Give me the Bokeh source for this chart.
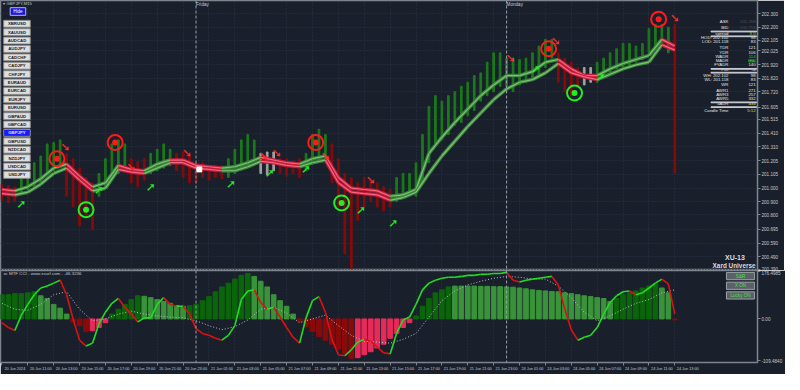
from bokeh.plotting import figure
from bokeh.layouts import column
from bokeh.models import (FixedTicker, Span, Label, BoxAnnotation, Range1d, Grid,
                          PrintfTickFormatter)
from bokeh.embed import file_html
from bokeh.resources import INLINE
from bokeh.core.properties import value

# ---------------- data ----------------
# time axis: hours since 20 Jun 09:00 (weekend gap removed)
tick_hours = list(range(0, 53, 2))
tick_labels = ["20 Jun 2024", "20 Jun 11:00", "20 Jun 13:00", "20 Jun 15:00", "20 Jun 17:00",
               "20 Jun 19:00", "20 Jun 21:00", "20 Jun 23:00", "21 Jun 01:00", "21 Jun 03:00",
               "21 Jun 05:00", "21 Jun 07:00", "21 Jun 09:00", "21 Jun 11:00", "21 Jun 13:00",
               "21 Jun 15:00", "21 Jun 17:00", "21 Jun 19:00", "21 Jun 21:00", "21 Jun 23:00",
               "24 Jun 01:00", "24 Jun 03:00", "24 Jun 05:00", "24 Jun 07:00", "24 Jun 09:00",
               "24 Jun 11:00", "24 Jun 13:00"]
friday_h = 15
monday_h = 39

price_ticks = [202.300, 202.200, 202.105, 202.025, 201.920, 201.820, 201.720, 201.605,
               201.515, 201.410, 201.310, 201.205, 201.105, 201.000, 200.900, 200.800,
               200.695, 200.590, 200.490, 200.390]

# candles every 30 min
candle_high = [201.03, 201.02, 201.01, 201.08, 201.11, 201.19, 201.24, 201.33, 201.34, 201.36,
               201.26, 201.22, 201.15, 201.08, 201.04, 201.11, 201.22, 201.33, 201.36, 201.33,
               201.22, 201.20, 201.22, 201.26, 201.29, 201.33, 201.29, 201.26, 201.27, 201.24,
               201.19, 201.19, 201.17, 201.17, 201.17, 201.22, 201.29, 201.36, 201.40, 201.36,
               201.26, 201.27, 201.27, 201.22, 201.22, 201.20, 201.22, 201.26, 201.40, 201.44,
               201.40, 201.33, 201.22, 201.11, 201.08, 201.04, 201.08, 201.06, 201.04, 201.01,
               200.99, 201.08, 201.11, 201.11, 201.19, 201.40, 201.61, 201.69, 201.65, 201.69,
               201.72, 201.76, 201.79, 201.84, 201.86, 201.94, 202.01, 202.01, 201.97, 201.97,
               201.96, 201.97, 202.01, 202.06, 202.11, 202.11, 202.01, 201.97, 201.94, 201.90,
               201.90, 201.90, 201.94, 201.97, 202.01, 202.04, 202.08, 202.08, 202.06, 202.08,
               202.19, 202.22, 202.22, 202.20, 202.22]
candle_low = [200.91, 200.89, 200.90, 200.97, 200.99, 201.01, 201.04, 201.11, 201.13, 201.17,
              200.94, 200.86, 200.72, 200.79, 200.69, 200.94, 201.01, 201.08, 201.11, 201.15,
              201.04, 201.01, 201.06, 201.11, 201.13, 201.15, 201.17, 201.13, 201.08, 201.04,
              201.04, 201.08, 201.06, 201.08, 201.07, 201.08, 201.11, 201.15, 201.17, 201.20,
              201.11, 201.10, 201.13, 201.11, 201.09, 201.11, 201.08, 201.13, 201.19, 201.20,
              201.22, 201.04, 200.86, 200.51, 200.40, 200.76, 200.86, 200.90, 200.86, 200.83,
              200.86, 200.90, 200.94, 200.97, 200.94, 201.04, 201.19, 201.33, 201.36, 201.40,
              201.47, 201.49, 201.54, 201.58, 201.65, 201.69, 201.72, 201.76, 201.76, 201.72,
              201.77, 201.79, 201.81, 201.84, 201.90, 201.97, 201.79, 201.72, 201.69, 201.76,
              201.77, 201.79, 201.79, 201.83, 201.84, 201.89, 201.90, 201.91, 201.94, 201.96,
              202.01, 202.04, 202.08, 202.01, 201.11]
candle_trend = ("rrrggggggg" "rrrrrggggg" "rrrggggrrr" "rrrrrggggg" "nnnrrrrggg"
                "grrrrrrrrr" "rggggggggg" "gggggggggg" "ggggggrrrr" "nngggggggg" "ggggr")

# moving-average band, hourly
ma_fast = [200.99, 200.98, 201.01, 201.07, 201.15, 201.18, 201.09, 201.01, 201.04, 201.17,
           201.14, 201.13, 201.18, 201.21, 201.21, 201.17, 201.16, 201.15, 201.16, 201.19,
           201.23, 201.21, 201.19, 201.18, 201.22, 201.24, 201.08, 201.00, 200.99, 200.98,
           200.94, 200.95, 200.99, 201.26, 201.38, 201.49, 201.59, 201.69, 201.77, 201.84,
           201.84, 201.87, 201.94, 201.96, 201.89, 201.84, 201.84, 201.89, 201.93, 201.96,
           201.99, 202.11, 202.06]
ma_slow = [200.96, 200.95, 200.97, 201.03, 201.11, 201.15, 201.06, 200.98, 201.00, 201.14,
           201.12, 201.11, 201.15, 201.19, 201.19, 201.15, 201.14, 201.13, 201.13, 201.16,
           201.20, 201.19, 201.17, 201.16, 201.19, 201.21, 201.04, 200.97, 200.96, 200.95,
           200.91, 200.93, 200.97, 201.11, 201.24, 201.35, 201.46, 201.56, 201.66, 201.74,
           201.79, 201.81, 201.86, 201.93, 201.86, 201.83, 201.81, 201.85, 201.89, 201.92,
           201.94, 202.07, 202.03]
ma_trend = "duuuudduud" "duudddduuu" "ddduuddddd" "uuuuuuuuuu" "uuuddduuuu" "ud"

sell_h = [4.25, 8.75, 24.25, 42.25, 50.75]
sell_p = [201.22, 201.34, 201.34, 202.04, 202.26]
buy_h = [6.5, 26.25, 44.25]
buy_p = [200.84, 200.89, 201.71]
dn_arrow_h = [4.9, 10.0, 14.3, 20.25, 21.25, 25.0, 28.5, 39.3, 42.8, 52.0]
dn_arrow_p = [201.31, 201.16, 201.26, 201.24, 201.26, 201.24, 201.06, 201.97, 202.10, 202.27]
up_arrow_h = [1.5, 7.5, 11.5, 17.7, 20.7, 23.5, 27.75, 30.25, 41.25, 46.25]
up_arrow_p = [200.88, 200.99, 201.01, 201.03, 201.11, 201.14, 200.84, 200.74, 201.89, 201.83]
marker_h = [15.25]
marker_p = [201.14]
bid_price = 201.758

# MTF CCI panel, every 30 min
cci_hist = [90, 90, 94, 94, 97, 101, 86, 76, 54, 40,
            18, -11, -25, -47, -44, -32, -14, 18, 36, 54,
            72, 86, 84, 79, 72, 65, 58, 50, 47, 49,
            54, 68, 83, 101, 119, 133, 148, 162, 169, 158,
            140, 119, 90, 68, 47, 18, -11, -29, -47, -65,
            -79, -94, -112, -130, -148, -144, -133, -122, -108, -94,
            -72, -54, -32, -14, 11, 47, 76, 97, 108, 119,
            122, 122, 122, 122, 121, 121, 120, 120, 119, 118,
            115, 112, 108, 106, 104, 102, 101, 97, 94, 90,
            86, 83, 79, 76, 65, 76, 90, 97, 104, 115,
            122, 130, 115, 97, -4]
hist_kind = ("DDDDDDLLLL" "LRRRPPPDDD" "DDLLLLLLLD" "DDDDDDDDDL" "LLLLLLRRRR"
             "RRRRRPPPPP" "PPPPDDDDDD" "LLLLLLLLLL" "LLLLLLLLLL" "LLLLLDDDDD" "DDLLR")
cci_line = [-14, -32, -43, 14, 54, 90, 115, 122, 133, 144,
            90, 0, -79, -101, -90, -18, 25, 58, 76, 43,
            18, -11, 4, 4, 54, 79, 54, 47, 47, 18,
            -36, -54, -61, -72, -79, -61, -25, 72, 104, 108,
            61, 36, 43, 7, -32, -68, -90, 4, 68, 83,
            25, -76, -133, -137, -115, -86, -76, -83, -104, -126,
            -130, -54, -4, 7, 54, 108, 133, 144, 151, 155,
            155, 158, 162, 162, 166, 166, 169, 169, 173, 144,
            137, 144, 148, 151, 155, 158, 126, 36, -40, -79,
            -68, -61, -32, 18, 61, 86, 101, 104, 90, 97,
            115, 133, 148, 130, 18]
cci_signal = [58, 36, 32, 54, 90, 101, 36, -7, 0, 18,
              29, 18, 11, 7, 4, -7, -25, -40, -29, -4,
              36, 43, 22, -14, 0, 14, -25, -61, -83, -86,
              -90, -76, -54, 7, 68, 104, 126, 140, 151, 158,
              155, 148, 148, 122, 79, 25, -7, 11, 36, 58,
              72, 97, 108]
cci_ticks = [176.4985, 0.0, -155.0]
cci_tick_text = ["176.4985", "0.00", "-109.4840"]

symbols = ["XBRUSD", "XAUUSD", "AUDCAD", "AUDJPY", "CADCHF", "CADJPY", "CHFJPY", "EURAUD",
           "EURCAD", "EURJPY", "EURUSD", "GBPAUD", "GBPCAD", "GBPJPY", "GBPUSD", "NZDCAD",
           "NZDJPY", "USDCAD", "USDJPY"]
active_symbol = "GBPJPY"

info_names = ["ASK", "BID", "spread", "HOD: 202.102", "LOD: 201.118", "TDR", "YDR", "WADR",
              "MADR", "FYADR", "PDI", "WH: 202.102", "WL: 201.118", "WR", "AWR1", "AWR3",
              "AWR5", "5ADR", "Candle Time"]
info_values = ["201.768", "201.758", "3.0", "98", "83", "121", "106", "114", "129", "140",
               "-4", "98", "83", "121", "271", "257", "332", "434", "5:12"]
info_colors = ["#4a5260", "#4a5260", "#9acd32", "#e6e6e6", "#e6e6e6", "#e6e6e6", "#e6e6e6",
               "#32cd32", "#101010", "#e6e6e6", "#e6e6e6", "#e6e6e6", "#e6e6e6", "#e6e6e6",
               "#e6e6e6", "#e6e6e6", "#e6e6e6", "#e6e640", "#c8e640"]

# ---------------- style ----------------
BG = "#19202c"
GRID = "#2a3444"
AXIS = "#7d848e"
TXT = "#c4c8ce"
FONT = "Liberation Sans"
GREEN_C = "#1a7a1a"
RED_C = "#880a0a"
GRAY_C = "#a0a0a0"
FW, FH1, FH2 = 757, 270, 92
RIGHT = 27
KX = FW / 781.0
KY = FH1 / 282.0
KY2 = FH2 / 95.0
X0, X1 = -0.11, 58.39


def sx(px):
    return px * KX


def sy1(py):
    return FH1 - py * KY


def sy2(py):
    return FH2 - (py - 285) * KY2


def style_axis(ax, size="4.6px"):
    ax.axis_line_color = AXIS
    ax.major_tick_line_color = AXIS
    ax.minor_tick_line_color = None
    ax.major_tick_in = 0
    ax.major_tick_out = 3
    ax.major_label_standoff = 1
    ax.major_label_text_font = FONT
    ax.major_label_text_font_size = size
    ax.major_label_text_color = TXT


def txt(p, x, y, text, size="4.6px", color=TXT, align="left", style="normal", xu="screen",
        bg=None):
    lab = Label(x=x, y=y, x_units=xu, y_units="screen", text=text, text_font=FONT,
                text_font_size=size, text_color=color, text_align=align,
                text_baseline="middle", text_font_style=style)
    if bg is not None:
        lab.background_fill_color = bg
    p.add_layout(lab)


def box(p, l, r, t, b, fill, line):
    p.add_layout(BoxAnnotation(left=l, right=r, top=t, bottom=b, left_units="screen",
                               right_units="screen", top_units="screen", bottom_units="screen",
                               fill_color=fill, fill_alpha=1, line_color=line, line_width=1,
                               line_alpha=1))


def clear_grids(p):
    for g in list(p.center):
        if isinstance(g, Grid):
            g.visible = False


# ---------------- price panel ----------------
p1 = figure(frame_width=FW, frame_height=FH1, x_range=Range1d(X0, X1),
            y_range=Range1d(200.386, 202.40), y_axis_location="right", x_axis_location=None,
            output_backend="svg", toolbar_location=None, background_fill_color=BG,
            border_fill_color=BG, min_border_left=0, min_border_top=0, min_border_bottom=0,
            min_border_right=RIGHT, outline_line_color=AXIS, outline_line_width=1.5)
clear_grids(p1)
style_axis(p1.yaxis[0])
p1.yaxis.ticker = FixedTicker(ticks=price_ticks)
p1.yaxis.formatter = PrintfTickFormatter(format="%.3f")
p1.add_layout(Grid(dimension=1, ticker=FixedTicker(ticks=price_ticks), grid_line_color=GRID,
                   grid_line_dash="1 2"))
p1.add_layout(Grid(dimension=0, ticker=FixedTicker(ticks=tick_hours), grid_line_color=GRID,
                   grid_line_dash="1 2"))

candle_h = [i * 0.5 for i in range(len(candle_high))]
cmap = {"g": GREEN_C, "r": RED_C, "n": GRAY_C}
p1.vbar(x=candle_h, top=candle_high, bottom=candle_low, width=0.13,
        color=[cmap[c] for c in candle_trend])

ma_h = list(range(len(ma_fast)))
for series in (ma_fast, ma_slow):
    xs, ys, outer, inner = [], [], [], []
    for i in range(len(series) - 1):
        xs.append([ma_h[i], ma_h[i + 1]])
        ys.append([series[i], series[i + 1]])
        up = ma_trend[i] == "u"
        outer.append("#3c843c" if up else "#c21e3c")
        inner.append("#7cc474" if up else "#f4687f")
    p1.multi_line(xs, ys, line_color=outer, line_width=3.6)
    p1.multi_line(xs, ys, line_color=inner, line_width=1.2)

p1.scatter(sell_h, sell_p, size=15, fill_alpha=0, line_color="#ff1a1a", line_width=2)
p1.scatter(sell_h, sell_p, size=6, fill_color="#ff1a1a", line_color=None)
p1.scatter(buy_h, buy_p, size=15, fill_alpha=0, line_color="#22ee22", line_width=2)
p1.scatter(buy_h, buy_p, size=6, fill_color="#22ee22", line_color=None)
p1.text(dn_arrow_h, dn_arrow_p, text=["\u2798"] * len(dn_arrow_h), text_font=value("DejaVu Sans"),
        text_font_size="12px", text_font_style="bold", text_color="#ff2a2a",
        text_align="center", text_baseline="middle")
p1.text(up_arrow_h, up_arrow_p, text=["\u279a"] * len(up_arrow_h), text_font=value("DejaVu Sans"),
        text_font_size="12px", text_font_style="bold", text_color="#22ee22",
        text_align="center", text_baseline="middle")
p1.scatter(marker_h, marker_p, marker="square", size=5, color="white")

for loc in (friday_h, monday_h):
    p1.add_layout(Span(location=loc, dimension="height", line_color="#9aa0aa",
                       line_dash="3 2", line_width=1))
txt(p1, friday_h, sy1(4.5), "Friday", xu="data")
txt(p1, monday_h, sy1(4.5), "Monday", xu="data")
txt(p1, sx(3), sy1(3), "\u25be GBPJPY,M15", size="4.2px")

# current price box on the axis
p1.add_layout(Label(x=FW + 1, y=bid_price, x_units="screen", y_units="data", text="201.758",
                    text_font=FONT, text_font_size="4.6px", text_color="#1a1a1a",
                    text_baseline="middle", background_fill_color="#dfe3e8"))

# Hide button + symbol buttons
box(p1, sx(10), sx(26), sy1(7.5), sy1(15.5), "#1818d8", "#b0b4ff")
txt(p1, sx(18), sy1(11.5), "Hide", size="4.6px", color="#ffffff", align="center")
for i, s in enumerate(symbols):
    top = 20.7 + i * 8.77
    act = s == active_symbol
    box(p1, sx(3.3), sx(30.7), sy1(top), sy1(top + 7.2),
        "#1a1aff" if act else "#dedede", "#8a8a8a")
    txt(p1, sx(17), sy1(top + 3.6), s, size="4.3px",
        color="#e0e0ff" if act else "#202020", align="center", style="bold")

# info panel
info_y = [22, 28, 34, 39, 43, 49, 54, 58, 63, 67, 72, 78, 82, 88, 94, 98, 102, 108, 115]
for nm, val, col, yy in zip(info_names, info_values, info_colors, info_y):
    txt(p1, sx(751), sy1(yy), nm, size="4.3px", color="#e6e6e6", align="right")
    txt(p1, sx(779), sy1(yy), val, size="4.3px", color=col, align="right",
        bg="#2fbf2f" if nm == "MADR" else None)
for yy in (32, 37, 71, 75, 106, 111):
    box(p1, sx(733), sx(780), sy1(yy), sy1(yy + 0.8), "#c8ccd2", "#c8ccd2")

txt(p1, sx(768), sy1(268), "XU-13", size="7px", color="#d8dce2", align="right", style="bold")
txt(p1, sx(779), sy1(277), "Xard Universe", size="6.4px", color="#d8dce2", align="right",
    style="bold")

# ---------------- MTF CCI panel ----------------
p2 = figure(frame_width=FW, frame_height=FH2, x_range=p1.x_range, y_range=Range1d(-162, 180),
            y_axis_location="right", output_backend="svg", toolbar_location=None,
            background_fill_color=BG, border_fill_color=BG, min_border_left=0,
            min_border_top=0, min_border_bottom=12, min_border_right=RIGHT,
            outline_line_color=AXIS, outline_line_width=1.5)
clear_grids(p2)
style_axis(p2.yaxis[0])
p2.yaxis.ticker = FixedTicker(ticks=cci_ticks)
p2.yaxis.major_label_overrides = {t: s for t, s in zip(cci_ticks, cci_tick_text)}
style_axis(p2.xaxis[0], size="3.8px")
xax = p2.xaxis[0]
xax.ticker = FixedTicker(ticks=[h + 1 for h in tick_hours], minor_ticks=tick_hours)
xax.major_label_overrides = {h + 1: s for h, s in zip(tick_hours, tick_labels)}
xax.major_tick_line_color = None
xax.minor_tick_line_color = AXIS
xax.minor_tick_in = 0
xax.minor_tick_out = 3
p2.add_layout(Grid(dimension=0, ticker=FixedTicker(ticks=tick_hours), grid_line_color=GRID,
                   grid_line_dash="1 2"))

hist_h = [i * 0.5 for i in range(len(cci_hist))]
hmap = {"D": "#0b650b", "L": "#3a923a", "R": "#8a0a0a", "P": "#e82a5a"}
p2.vbar(x=hist_h, top=cci_hist, bottom=0, width=0.36, color=[hmap[k] for k in hist_kind])

sig_h = list(range(len(cci_signal)))
p2.line(sig_h, cci_signal, line_color="#b8bcc4", line_dash="1 2", line_width=1)

cx, cy, cc = [], [], []
for i in range(len(cci_line) - 1):
    cx.append([hist_h[i], hist_h[i + 1]])
    cy.append([cci_line[i], cci_line[i + 1]])
    cc.append("#22dd22" if cci_line[i + 1] >= cci_line[i] else "#dd1111")
p2.multi_line(cx, cy, line_color=cc, line_width=1.6)

for loc in (friday_h, monday_h):
    p2.add_layout(Span(location=loc, dimension="height", line_color="#9aa0aa",
                       line_dash="3 2", line_width=1))

txt(p2, sx(3), sy2(288.5), "xc MTF CCI - www.xsurf.com - -46.3236", size="4.4px")
for lbl, top in (("S&R", 287), ("X ON", 297), ("Lucky ON", 307)):
    box(p2, sx(749), sx(778), sy2(top), sy2(top + 7.5), "#5c6168", "#9aa0a8")
    txt(p2, sx(763.5), sy2(top + 3.75), lbl, size="4.6px", color="#4ae04a", align="center")

layout = column(p1, p2, spacing=0)
open("out.html", "w").write(file_html(layout, INLINE))
